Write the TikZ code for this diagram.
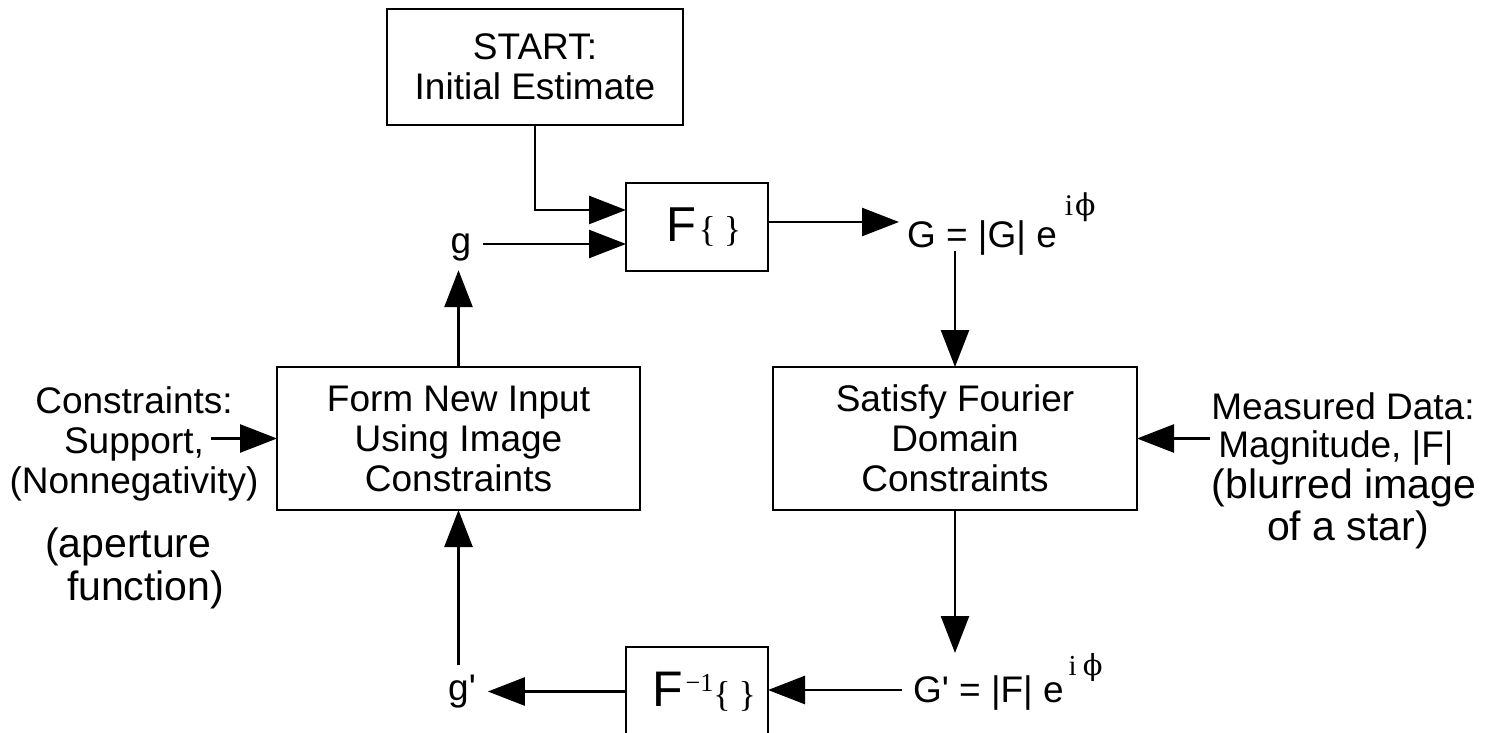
\documentclass[tikz,border=0pt]{standalone}
\usepackage{fontspec}
\setmainfont{Liberation Sans}
\newfontfamily\serifpart{Liberation Serif}
\newfontfamily\phipart{DejaVu Serif}
\usetikzlibrary{arrows.meta,calc}
\newcommand\mainsz{\fontsize{37}{40}\selectfont}
\newcommand\notesz{\fontsize{41}{42}\selectfont}
\begin{document}
\begin{tikzpicture}[x=1pt,y=-1pt,
  every node/.style={inner sep=0pt,outer sep=0pt},
  box/.style={draw,line width=2.6pt,align=center,font=\mainsz},
  arr/.style={line width=2.6pt,-{Triangle[length=37pt,width=28pt]}},
  lbl/.style={font=\mainsz},
  note/.style={font=\notesz},
  var/.style={font=\mainsz,inner xsep=12pt,inner ysep=9.5pt,anchor=base}]

% page frame
\fill[white] (0,0) rectangle (1494,733);
\useasboundingbox (0,0) rectangle (1494,733);

% blocks
\node[box,minimum width=296pt,minimum height=116pt] (start) at (535,67)
  {START:\\Initial Estimate};
\node[box,minimum width=142pt,minimum height=88pt] (fwd) at (697,227)
  {\hspace*{14pt}{\fontsize{49}{49}\selectfont F}\kern2pt{\serifpart\fontsize{36}{36}\selectfont\{\kern8pt\}}};
\node[box,minimum width=363pt,minimum height=143pt] (form) at (458.5,438.5)
  {Form New Input\\Using Image\\Constraints};
\node[box,minimum width=364pt,minimum height=143pt] (sat) at (955,438.5)
  {Satisfy Fourier\\Domain\\Constraints};
\node[box,minimum width=142pt,minimum height=89pt] (finv) at (697,691.5)
  {\hspace*{14pt}{\fontsize{50}{50}\selectfont F}\kern3pt\raisebox{15pt}{\serifpart\fontsize{26}{26}\selectfont −1}{\serifpart\fontsize{36}{36}\selectfont\{\kern8pt\}}};

% signals
\node[var] (g) at (461,253) {g};
\node[var] (gp) at (462,700) {g\textquotesingle};
\node[lbl,anchor=base west] (G) at (907,247)
  {G = |G| e\kern8pt\raisebox{32pt}{\serifpart\fontsize{30}{30}\selectfont i\kern2pt{\phipart ϕ}}};
\node[lbl,anchor=base west] (Gp) at (913,702)
  {G\textquotesingle{} = |F| e\kern5pt\raisebox{27pt}{\serifpart\fontsize{29}{29}\selectfont i\kern6pt{\phipart ϕ}}};

% side notes
\node[lbl,align=center] (cons) at (134,444)
  {Constraints:\\Support,\\(Nonnegativity)};
\node[note,anchor=base west] (ap1) at (45,557) {(aperture};
\node[note,anchor=base west] (ap2) at (67,600) {function)};
\node[lbl,anchor=base] (mdata) at (1343,419) {Measured Data:};
\node[lbl,anchor=base] (mmag) at (1336,457) {Magnitude, |F|};
\node[note,anchor=base] (mblur) at (1344,498) {(blurred image};
\node[note,anchor=base] (mstar) at (1348,540) {of a star)};

% connector ends
\coordinate (fin1) at ($(fwd.west)+(0,-17)$);
\coordinate (fin2) at ($(fwd.west)+(0,17)$);
\coordinate (Gin) at (899,222);
\coordinate (Gdown) at (955,251);
\coordinate (Gptop) at (955,653);
\coordinate (Gpl) at (902,690);
\coordinate (consout) at (211,438.5);
\coordinate (measout) at (1210,438.5);

% connectors
\draw[arr] (start.south) |- (fin1);
\draw[arr] (g.east |- fin2) -- (fin2);
\draw[arr] (fwd.east |- Gin) -- (Gin);
\draw[arr] (Gdown -| sat.north) -- (sat.north);
\draw[arr] (measout) -- (sat.east);
\draw[arr] (sat.south) -- (Gptop);
\draw[arr] (Gpl) -- (finv.east |- Gpl);
\draw[arr] (finv.west) -- (finv.west -| gp.east);
\draw[arr] (gp.north -| form.south) -- (form.south);
\draw[arr] (form.north) -- (form.north |- g.south);
\draw[arr] (consout) -- (form.west);
\end{tikzpicture}
\end{document}
